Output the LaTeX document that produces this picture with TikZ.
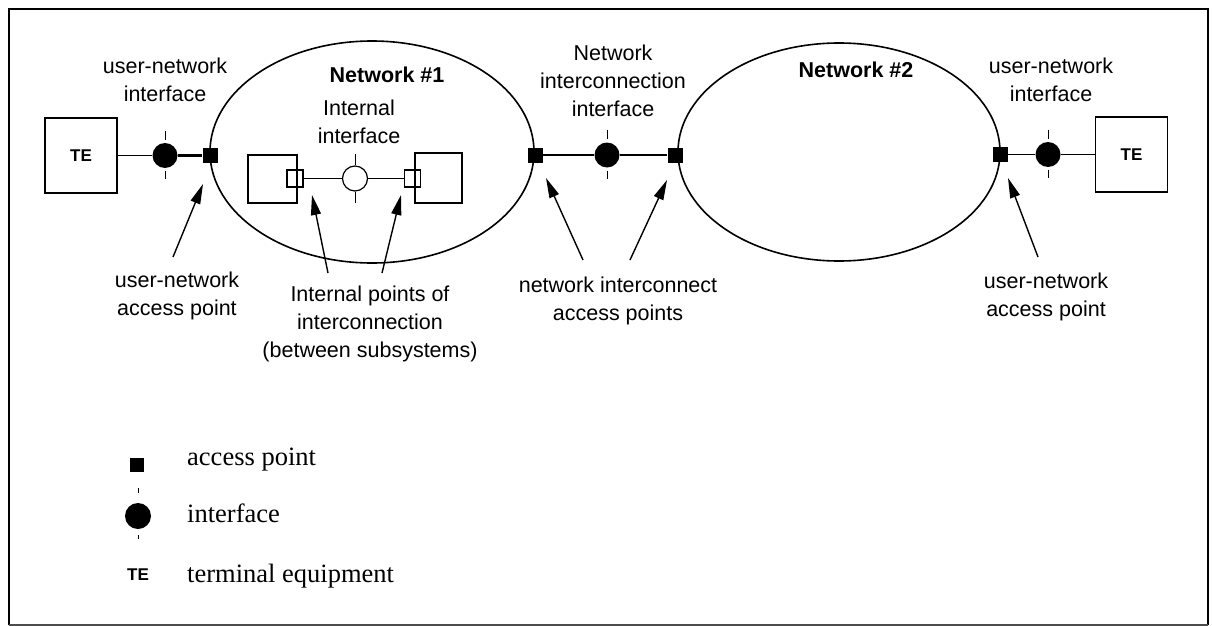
\documentclass[tikz,border=0pt]{standalone}
\usepackage{fontspec}
\setmainfont{Liberation Serif}
\newfontfamily\labelfont{Liberation Sans}
\usetikzlibrary{shapes.geometric,arrows.meta}

\begin{document}
\begin{tikzpicture}[x=1pt,y=-1pt,
  lbl/.style={font=\labelfont\fontsize{21.5}{28}\selectfont, align=center, inner sep=0pt},
  netname/.style={font=\labelfont\bfseries\fontsize{21.5}{28}\selectfont, inner sep=0pt},
  legtext/.style={font=\fontsize{26.5}{30}\selectfont, inner sep=0pt, anchor=base west},
  tebox/.style={draw, line width=1.3pt, minimum width=72pt, minimum height=75pt, inner sep=0pt,
    font=\labelfont\bfseries\fontsize{17}{20}\selectfont},
  network/.style={draw, ellipse, line width=1.6pt, inner sep=0pt},
  apoint/.style={fill=black, minimum size=15pt, inner sep=0pt},
  iface/.style={circle, fill=black, minimum size=25pt, inner sep=0pt},
  subbox/.style={draw, line width=1.2pt, inner sep=0pt},
  subport/.style={draw, line width=1.2pt, minimum width=16pt, minimum height=17pt, inner sep=0pt},
  opencirc/.style={circle, draw, fill=white, line width=1.2pt, minimum size=25pt, inner sep=0pt},
  tick/.style={line width=0.8pt},
  thinlink/.style={line width=1.4pt},
  thicklink/.style={line width=2.6pt},
  pointer/.style={line width=1.4pt, -{Triangle[length=20pt,width=10pt]}}
]
\useasboundingbox (0,0) rectangle (1212,626);

% frame
\draw[line width=2.2pt] (9,625) -- (9,9) -- (1208,9) -- (1208,625);
\draw[line width=1.4pt, black!70] (9,625) -- (1208,625);

% the two networks
\node[network, minimum width=324pt, minimum height=222pt] (net1) at (372,152) {};
\node[network, minimum width=322pt, minimum height=218pt] (net2) at (839,152) {};
\node[netname] (net1name) at (387,75) {Network \#1};
\node[netname] (net2name) at (856,70) {Network \#2};

% left terminal and its user-network interface
\node[tebox] (teL) at (81,155.5) {TE};
\node[iface] (ifL) at (165,155.5) {};
\node[apoint] (apL) at (210,155.5) {};
\draw[thinlink] (teL) -- (ifL);
\draw[thicklink] (ifL) -- (apL);

% network interconnection interface
\node[apoint] (apN1) at (535,155) {};
\node[iface] (ifN) at (607,155) {};
\node[apoint] (apN2) at (675,155) {};
\draw[thicklink] (apN1) -- (ifN);
\draw[thicklink] (ifN) -- (apN2);

% right terminal and its user-network interface
\node[apoint] (apR) at (1000,154.5) {};
\node[iface] (ifR) at (1048,154.5) {};
\node[tebox] (teR) at (1131.5,154.5) {TE};
\draw[thinlink] (apR) -- (ifR);
\draw[thinlink] (ifR) -- (teR);

% ticks on the interfaces
\foreach \n in {ifL,ifN,ifR}{
  \draw[tick] (\n.north) ++(0,-3) -- ++(0,-9);
  \draw[tick] (\n.south) ++(0,3) -- ++(0,8);
}

% subsystems inside network #1
\node[subbox, minimum width=49pt, minimum height=48pt] (subL) at (272.5,179) {};
\node[subbox, minimum width=47pt, minimum height=50pt] (subR) at (438.5,178) {};
\node[subport] (portL) at (295,178.5) {};
\node[subport] (portR) at (412.5,178.5) {};
\node[opencirc] (ifI) at (355,178.5) {};
\draw[thinlink] (portL) -- (ifI);
\draw[thinlink] (ifI) -- (portR);
\draw[tick] (ifI.north) -- ++(0,-11);
\draw[tick] (ifI.south) -- ++(0,11);

% labels
\node[lbl] (uniL) at (165,80) {user-network\\interface};
\node[lbl] (intif) at (359,122) {Internal\\interface};
\node[lbl] (nii) at (613,81) {Network\\interconnection\\interface};
\node[lbl] (uniR) at (1051,80) {user-network\\interface};
\node[lbl] (unapL) at (177,296) {user-network\\access point};
\node[lbl] (ipi) at (370,324) {Internal points of\\interconnection\\(between subsystems)};
\node[lbl] (niap) at (618,301) {network interconnect\\access points};
\node[lbl] (unapR) at (1046,297) {user-network\\access point};

% pointers from the labels to the access points
\coordinate (t1) at (173,257);  \coordinate (h1) at (203,184);
\coordinate (t2) at (328,273);  \coordinate (h2) at (312,195);
\coordinate (t3) at (382,273);  \coordinate (h3) at (401,195);
\coordinate (t4) at (583,260);  \coordinate (h4) at (546,178);
\coordinate (t5) at (630,260);  \coordinate (h5) at (667,180);
\coordinate (t6) at (1038,257); \coordinate (h6) at (1008,178);
\foreach \i in {1,...,6}{ \draw[pointer] (t\i) -- (h\i); }

% legend
\node[apoint, minimum size=14pt] (legap) at (137,465) {};
\node[legtext] (legapt) at (187,465) {access point};
\node[iface, minimum size=26pt] (legif) at (138,516) {};
\draw[tick] (legif.north) ++(0,-10) -- ++(0,-5);
\draw[tick] (legif.south) ++(0,6) -- ++(0,4);
\node[legtext] (legift) at (187,522) {interface};
\node[font=\labelfont\bfseries\fontsize{17}{20}\selectfont, inner sep=0pt] (legte) at (138,575) {TE};
\node[legtext] (legtet) at (187,582) {terminal equipment};
\end{tikzpicture}
\end{document}
